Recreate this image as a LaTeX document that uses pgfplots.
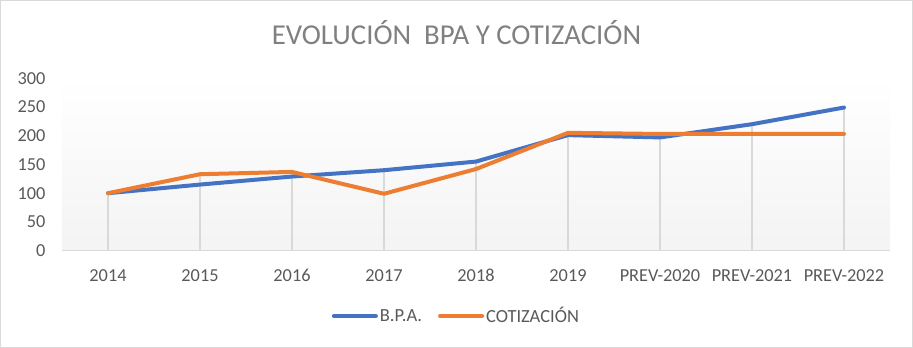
\documentclass[border=0pt]{standalone}
\usepackage{pgfplots}
\pgfplotsset{compat=1.18}
\usepackage{fontspec}
\setmainfont{Carlito}
\definecolor{bpa}{HTML}{4472C4}
\definecolor{coti}{HTML}{ED7D31}
\definecolor{txt}{HTML}{595959}
\definecolor{ttl}{HTML}{808080}
\definecolor{grd}{HTML}{D9D9D9}
\begin{document}
\begin{tikzpicture}[x=1pt,y=1pt]
\useasboundingbox (0,0) rectangle (913,348);
\draw[grd, line width=1.2pt] (0.6,0.6) rectangle (912.4,347.4);
\node[anchor=base, text=ttl, font=\fontsize{28.8}{28.8}\selectfont] at (456.5,303.5) {EVOLUCIÓN\ \ BPA Y COTIZACIÓN};
\begin{axis}[
  at={(62pt,97.3pt)}, anchor=south west,
  scale only axis, width=828pt, height=172.5pt,
  xmin=-0.5, xmax=8.5, ymin=0, ymax=300,
  xtick={0,...,8},
  xticklabels={2014,2015,2016,2017,2018,2019,PREV-2020,PREV-2021,PREV-2022},
  ytick={0,50,...,300},
  major tick length=0pt,
  axis line style={draw=none},
  axis x line*=bottom, axis y line*=left,
  /pgf/number format/assume math mode=true,
  tick label style={font=\fontsize{18.3}{18.3}\selectfont, text=txt},
  xticklabel style={anchor=base, yshift=-31pt},
  yticklabel style={anchor=east, xshift=-13pt},
  axis background/.style={shade, top color=white, bottom color=gray!9},
  legend style={at={(0.4764,-0.3786)}, anchor=center, draw=none, fill=none,
    font=\fontsize{18.5}{18.5}\selectfont, text=txt, legend columns=2,
    /tikz/every even column/.append style={column sep=14pt}},
  legend image code/.code={\draw[#1,line cap=round] (0pt,0pt) -- (42pt,0pt);},
  clip=false,
]
% drop lines (maximum of both series)
\addplot[ycomb, grd, line width=1.6pt, forget plot] coordinates {
 (0,100) (1,133) (2,137) (3,140) (4,155) (5,205) (6,203) (7,220) (8,249)};
\draw[grd, line width=1.6pt] (axis cs:-0.5,0) -- (axis cs:8.5,0);
\addplot[bpa, line width=4pt, line join=round, line cap=round] coordinates {
 (0,100) (1,115) (2,129) (3,140) (4,155) (5,201) (6,197) (7,220) (8,249)};
\addlegendentry{B.P.A.}
\addplot[coti, line width=4pt, line join=round, line cap=round] coordinates {
 (0,100) (1,133) (2,137) (3,99) (4,142) (5,205) (6,203) (7,203) (8,203)};
\addlegendentry{COTIZACIÓN}
\end{axis}
\end{tikzpicture}
\end{document}
